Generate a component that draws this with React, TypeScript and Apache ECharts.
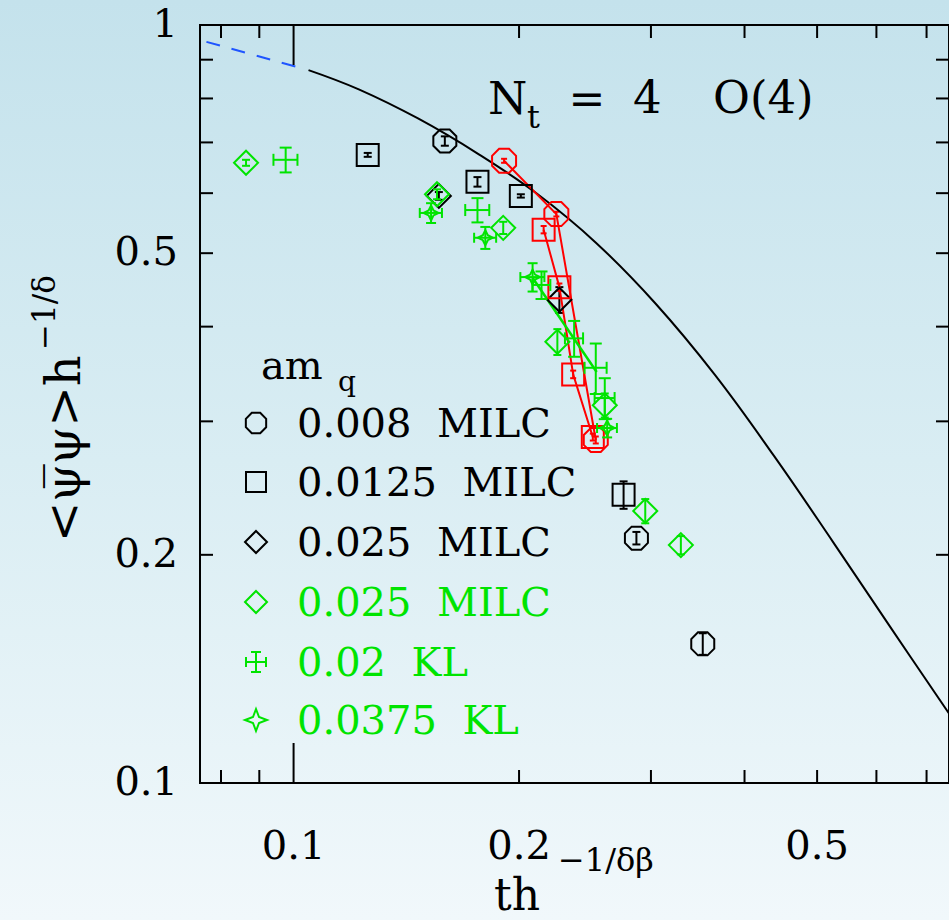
import React, { useEffect, useRef } from "react";
import * as echarts from "echarts";

const W = 949;
const H = 920;
const FONT = "'DejaVu Serif', serif";
const GREEN = "#00e400";
const RED = "#ff0000";
const BLACK = "#000000";
const BLUE = "#1f55ff";

// ---- axes ----
const xRange = [0.075, 0.75];
const yRange = [0.1, 1];
const xTickLabels = [0.1, 0.2, 0.5];
const yTickLabels = [0.1, 0.2, 0.5, 1];
const xMinorTicks = [0.08, 0.09, 0.2, 0.3, 0.4, 0.5, 0.6, 0.7];
const xMajorTicks = [0.1];
const yMinorTicks = [0.2, 0.3, 0.4, 0.5, 0.6, 0.7, 0.8, 0.9];

// ---- data: [x, y, yErr] ----
const milc0008 = [
  [0.1592, 0.703, 0.01],
  [0.2869, 0.2104, 0.004],
  [0.3518, 0.1526, 0.005],
];
const milc0125 = [
  [0.1256, 0.674, 0.004],
  [0.176, 0.621, 0.009],
  [0.2011, 0.595, 0.003],
  [0.2758, 0.24, 0.01],
];
const milc025Black = [
  [0.1563, 0.595, 0.007],
  [0.2264, 0.434, 0.017],
];
const milc025Green = [
  [0.0864, 0.658, 0.006],
  [0.1554, 0.598, 0.009],
  [0.1905, 0.54, 0.01],
  [0.225, 0.382, 0.015],
  [0.2603, 0.315, 0.0115],
  [0.2948, 0.2285, 0.0084],
  [0.3289, 0.206, 0.0057],
];
// [x, y, xErr, yErr]
const kl002 = [
  [0.0976, 0.664, 0.0036, 0.025],
  [0.176, 0.57, 0.0065, 0.021],
  [0.2143, 0.454, 0.0059, 0.019],
  [0.2369, 0.386, 0.0066, 0.021],
  [0.2532, 0.353, 0.0086, 0.027],
  [0.2603, 0.322, 0.008, 0.02],
];
const kl00375 = [
  [0.1526, 0.565, 0.0052, 0.017],
  [0.1803, 0.524, 0.0061, 0.0175],
  [0.2085, 0.465, 0.0077, 0.02],
  [0.2622, 0.294, 0.008, 0.0083],
];
const redOctagons = [
  [0.191, 0.662, 0.004],
  [0.2243, 0.563, 0.004],
  [0.2532, 0.2835, 0.003],
];
const redSquares = [
  [0.2157, 0.537, 0.006],
  [0.2264, 0.451, 0.005],
  [0.2362, 0.346, 0.004],
  [0.2509, 0.286, 0.003],
];
const greenFit = [
  [0.2085, 0.464],
  [0.2539, 0.3485],
];
const scalingCurve = [
  [0.1047, 0.872],
  [0.1222, 0.8224],
  [0.1466, 0.7528],
  [0.1759, 0.6772],
  [0.2112, 0.5993],
  [0.2533, 0.5162],
  [0.304, 0.4295],
  [0.3648, 0.346],
  [0.4377, 0.2703],
  [0.5252, 0.2079],
  [0.6302, 0.1591],
  [0.75, 0.1235],
];
const scalingDashed = [
  [0.0765, 0.95],
  [0.0875, 0.916],
  [0.1012, 0.88],
];

const legendItems = [
  { label: "0.008  MILC", color: BLACK, shape: "octagon" },
  { label: "0.0125  MILC", color: BLACK, shape: "square" },
  { label: "0.025  MILC", color: BLACK, shape: "diamond" },
  { label: "0.025  MILC", color: GREEN, shape: "diamond" },
  { label: "0.02  KL", color: GREEN, shape: "cross" },
  { label: "0.0375  KL", color: GREEN, shape: "star" },
];

const OCTAGON =
  "path://M-0.383,-0.924L0.383,-0.924L0.924,-0.383L0.924,0.383L0.383,0.924L-0.383,0.924L-0.924,0.383L-0.924,-0.383Z";
const STAR = "path://M0,-10L3.3,-3.3L10,0L3.3,3.3L0,10L-3.3,3.3L-10,0L-3.3,-3.3Z";

function ln(x1: number, y1: number, x2: number, y2: number, color: string, w = 2) {
  return { type: "line", shape: { x1, y1, x2, y2 }, style: { stroke: color, lineWidth: w } };
}

function errorSeries(data: number[][], color: string, cap: number, withX: boolean, z = 3) {
  return {
    type: "custom",
    data,
    encode: { x: 0, y: 1 },
    clip: false,
    silent: true,
    z,
    renderItem: (params: any, api: any) => {
      const x = api.value(0);
      const y = api.value(1);
      const ye = withX ? api.value(3) : api.value(2);
      const xe = withX ? api.value(2) : 0;
      const c = api.coord([x, y]);
      const t = api.coord([x, y + ye]);
      const b = api.coord([x, y - ye]);
      const children: any[] = [
        ln(c[0], t[1], c[0], b[1], color),
        ln(c[0] - cap, t[1], c[0] + cap, t[1], color),
        ln(c[0] - cap, b[1], c[0] + cap, b[1], color),
      ];
      if (withX && xe) {
        const l = api.coord([x - xe, y]);
        const r = api.coord([x + xe, y]);
        children.push(ln(l[0], c[1], r[0], c[1], color));
        children.push(ln(l[0], c[1] - cap, l[0], c[1] + cap, color));
        children.push(ln(r[0], c[1] - cap, r[0], c[1] + cap, color));
      }
      return { type: "group", children };
    },
  };
}

function scatterSeries(data: number[][], symbol: string, size: number, color: string, z = 4) {
  return {
    type: "scatter",
    data: data.map((d) => [d[0], d[1]]),
    symbol,
    symbolSize: size,
    silent: true,
    z,
    itemStyle: { color: "rgba(0,0,0,0)", borderColor: color, borderWidth: 2, opacity: 1 },
  };
}

function octPoints(cx: number, cy: number, r: number) {
  const pts: number[][] = [];
  for (let k = 0; k < 8; k++) {
    const a = ((22.5 + 45 * k) * Math.PI) / 180;
    pts.push([cx + r * Math.cos(a), cy + r * Math.sin(a)]);
  }
  return pts;
}

function legendSymbol(shape: string, cx: number, cy: number, color: string): any[] {
  const st = { stroke: color, lineWidth: 2, fill: "none" };
  if (shape === "octagon") return [{ type: "polygon", shape: { points: octPoints(cx, cy, 11) }, style: st }];
  if (shape === "square") return [{ type: "rect", shape: { x: cx - 10, y: cy - 10, width: 20, height: 20 }, style: st }];
  if (shape === "diamond")
    return [
      {
        type: "polygon",
        shape: { points: [[cx, cy - 11], [cx + 11, cy], [cx, cy + 11], [cx - 11, cy]] },
        style: st,
      },
    ];
  if (shape === "cross") {
    const a = 10, c = 5;
    return [
      ln(cx, cy - a, cx, cy + a, color),
      ln(cx - c, cy - a, cx + c, cy - a, color),
      ln(cx - c, cy + a, cx + c, cy + a, color),
      ln(cx - a, cy, cx + a, cy, color),
      ln(cx - a, cy - c, cx - a, cy + c, color),
      ln(cx + a, cy - c, cx + a, cy + c, color),
    ];
  }
  // star
  const o = 11, i = 3;
  return [
    {
      type: "polygon",
      shape: {
        points: [
          [cx, cy - o], [cx + i, cy - i], [cx + o, cy], [cx + i, cy + i],
          [cx, cy + o], [cx - i, cy + i], [cx - o, cy], [cx - i, cy - i],
        ],
      },
      style: st,
    },
  ];
}

function buildOption() {
  const txt = (text: string, x: number, y: number, size: number, color = BLACK, align = "left") => ({
    type: "text",
    x,
    y,
    silent: true,
    style: { text, fontSize: size, fontFamily: FONT, fill: color, align, verticalAlign: "middle" },
  });

  const graphics: any[] = [
    {
      type: "rect",
      z: -100,
      silent: true,
      shape: { x: 0, y: 0, width: W, height: H },
      style: {
        fill: new echarts.graphic.LinearGradient(0, 0, 0, 1, [
          { offset: 0, color: "#c4e2ec" },
          { offset: 0.5, color: "#d9edf3" },
          { offset: 1, color: "#f1f8fb" },
        ]),
      },
    },
    // N_t = 4   O(4)
    txt("N", 488, 98, 45),
    txt("t", 527, 117, 32),
    txt("=", 587, 98, 44, BLACK, "center"),
    txt("4", 633, 97, 45),
    txt("O(4)", 713, 97, 45),
    // legend title
    txt("am", 261, 365, 40),
    txt("q", 338, 381, 28),
    // x axis title
    txt("th", 494, 894, 44),
    txt("\u22121/\u03b4\u03b2", 558, 860, 32),
    // y axis title (rotated)
    {
      type: "group",
      x: 63,
      y: 542,
      rotation: Math.PI / 2,
      silent: true,
      children: [
        {
          type: "text",
          x: 0,
          y: 0,
          style: { text: "<\u03c8\u0305\u03c8>h", fontSize: 48, fontFamily: FONT, fill: BLACK, align: "left", verticalAlign: "middle" },
        },
        {
          type: "text",
          x: 192,
          y: -19,
          style: { text: "\u22121/\u03b4", fontSize: 31, fontFamily: FONT, fill: BLACK, align: "left", verticalAlign: "middle" },
        },
      ],
    },
  ];

  const rowY = [423, 482, 542, 602, 662, 720];
  legendItems.forEach((it, k) => {
    graphics.push(...legendSymbol(it.shape, 256, rowY[k], it.color).map((g) => ({ ...g, silent: true })));
    graphics.push(txt(it.label, 297, rowY[k], 40, it.color));
  });

  const tickSeriesX = (vals: number[], len: number) => ({
    type: "custom",
    data: vals.map((v) => [v, 0.5]),
    encode: { x: 0, y: 1 },
    clip: false,
    silent: true,
    z: 10,
    renderItem: (params: any, api: any) => {
      const cs = params.coordSys;
      const px = api.coord([api.value(0), 0.5])[0];
      return {
        type: "group",
        children: [
          ln(px, cs.y, px, cs.y + len, BLACK),
          ln(px, cs.y + cs.height, px, cs.y + cs.height - len, BLACK),
        ],
      };
    },
  });

  const tickSeriesY = (vals: number[], len: number) => ({
    type: "custom",
    data: vals.map((v) => [0.2, v]),
    encode: { x: 0, y: 1 },
    clip: false,
    silent: true,
    z: 10,
    renderItem: (params: any, api: any) => {
      const cs = params.coordSys;
      const py = api.coord([0.2, api.value(1)])[1];
      return {
        type: "group",
        children: [
          ln(cs.x, py, cs.x + len, py, BLACK),
          ln(cs.x + cs.width, py, cs.x + cs.width - len, py, BLACK),
        ],
      };
    },
  });

  const xLabelSeries = {
    type: "custom",
    data: xTickLabels.map((v) => [v, 0.5]),
    encode: { x: 0, y: 1 },
    clip: false,
    silent: true,
    renderItem: (params: any, api: any) => {
      const cs = params.coordSys;
      const v = api.value(0);
      const px = api.coord([v, 0.5])[0];
      return {
        type: "text",
        x: px,
        y: cs.y + cs.height + 62,
        style: { text: String(v), fontSize: 40, fontFamily: FONT, fill: BLACK, align: "center", verticalAlign: "middle" },
      };
    },
  };

  const yLabelSeries = {
    type: "custom",
    data: yTickLabels.map((v) => [0.2, v]),
    encode: { x: 0, y: 1 },
    clip: false,
    silent: true,
    renderItem: (params: any, api: any) => {
      const cs = params.coordSys;
      const v = api.value(1);
      const py = api.coord([0.2, v])[1];
      return {
        type: "text",
        x: cs.x - 22,
        y: py - 2,
        style: { text: String(v), fontSize: 40, fontFamily: FONT, fill: BLACK, align: "right", verticalAlign: "middle" },
      };
    },
  };

  const axisCommon = {
    type: "log",
    logBase: 10,
    axisLine: { show: false },
    axisTick: { show: false },
    axisLabel: { show: false },
    splitLine: { show: false },
  };

  return {
    animation: false,
    backgroundColor: "transparent",
    grid: { left: 200, top: 25, width: 758, height: 758, show: true, borderColor: BLACK, borderWidth: 2, backgroundColor: "transparent" },
    xAxis: { ...axisCommon, min: xRange[0], max: xRange[1] },
    yAxis: { ...axisCommon, min: yRange[0], max: yRange[1] },
    graphic: graphics,
    series: [
      {
        type: "line",
        data: scalingDashed,
        showSymbol: false,
        smooth: true,
        silent: true,
        lineStyle: { color: BLUE, width: 2, type: [14, 12] },
      },
      {
        type: "line",
        data: scalingCurve,
        showSymbol: false,
        smooth: 0.4,
        silent: true,
        lineStyle: { color: BLACK, width: 2 },
      },
      {
        type: "line",
        data: redOctagons.map((d) => [d[0], d[1]]),
        showSymbol: false,
        silent: true,
        lineStyle: { color: RED, width: 2 },
      },
      {
        type: "line",
        data: redSquares.map((d) => [d[0], d[1]]),
        showSymbol: false,
        silent: true,
        lineStyle: { color: RED, width: 2 },
      },
      {
        type: "line",
        data: greenFit,
        showSymbol: false,
        silent: true,
        lineStyle: { color: GREEN, width: 2.5 },
      },
      scatterSeries(milc0008, OCTAGON, 23, BLACK),
      errorSeries(milc0008, BLACK, 4, false),
      scatterSeries(milc0125, "rect", 22, BLACK),
      errorSeries(milc0125, BLACK, 4, false),
      scatterSeries(milc025Black, "diamond", 24, BLACK),
      errorSeries(milc025Black, BLACK, 4, false),
      scatterSeries(redOctagons, OCTAGON, 24, RED),
      errorSeries(redOctagons, RED, 3, false),
      scatterSeries(redSquares, "rect", 22, RED),
      errorSeries(redSquares, RED, 3, false),
      scatterSeries(milc025Green, "diamond", 24, GREEN, 5),
      errorSeries(milc025Green, GREEN, 4, false, 5),
      errorSeries(kl002, GREEN, 6, true, 5),
      scatterSeries(kl00375, STAR, 15, GREEN, 5),
      errorSeries(kl00375, GREEN, 5, true, 5),
      tickSeriesX(xMinorTicks, 13),
      tickSeriesX(xMajorTicks, 40),
      tickSeriesY(yMinorTicks, 13),
      xLabelSeries,
      yLabelSeries,
    ],
  };
}

export default function App() {
  const ref = useRef<HTMLDivElement>(null);
  useEffect(() => {
    if (!ref.current) return;
    const chart = echarts.init(ref.current, null, { renderer: "svg", width: W, height: H });
    chart.setOption(buildOption() as any);
    return () => chart.dispose();
  }, []);
  return <div ref={ref} style={{ position: "absolute", left: 0, top: 0, width: W, height: H, overflow: "hidden" }} />;
}
